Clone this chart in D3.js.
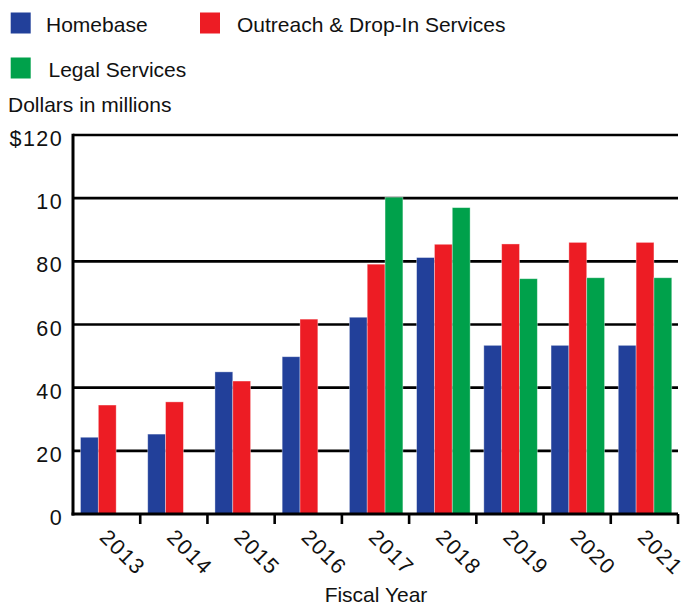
<!DOCTYPE html>
<html>
<head>
<meta charset="utf-8">
<script src="https://cdn.jsdelivr.net/npm/d3@7"></script>
<style>
  html, body { margin: 0; padding: 0; background: #fff; }
  svg { display: block; font-family: "Liberation Sans", Arial, sans-serif; }
</style>
</head>
<body>
<svg id="chart" width="681" height="605"></svg>
<script>
const years = ["2013","2014","2015","2016","2017","2018","2019","2020","2021"];
const seriesNames = ["Homebase", "Outreach & Drop-In Services", "Legal Services"];
const homebase = [24.3, 25.3, 45.0, 49.8, 62.3, 81.2, 53.4, 53.4, 53.4];
const outreach = [34.5, 35.5, 42.1, 61.7, 79.1, 85.4, 85.5, 86.0, 86.0];
const legal    = [null, null, null, null, 100.3, 97.0, 74.5, 74.8, 74.8];
const yTickValues = [0, 20, 40, 60, 80, 100, 120];
const yTickLabels = ["0", "20", "40", "60", "80", "10", "$120"];
const colors = ["#22409A", "#ED1C24", "#00A14B"];

const svg = d3.select("#chart");
const x0 = 73, x1 = 678, yBottom = 514, yTop = 135;

const x = d3.scaleBand().domain(years).range([x0, x1]).padding(0);
const xs = d3.scaleBand().domain(seriesNames).range([7.5, 61]).padding(0);
const y = d3.scaleLinear().domain([0, 120]).range([yBottom, yTop]);

const allSeries = [homebase, outreach, legal];

// gridlines
svg.append("g").selectAll("line")
  .data(yTickValues.filter(v => v > 0))
  .join("line")
  .attr("x1", x0).attr("x2", x1)
  .attr("y1", d => y(d)).attr("y2", d => y(d))
  .attr("stroke", "#000").attr("stroke-width", 2.6);

// bars
const barData = [];
allSeries.forEach((arr, si) => {
  arr.forEach((v, i) => {
    if (v != null) barData.push({ year: years[i], series: seriesNames[si], value: v, si });
  });
});
svg.append("g").selectAll("rect")
  .data(barData)
  .join("rect")
  .attr("x", d => x(d.year) + xs(d.series))
  .attr("width", xs.bandwidth())
  .attr("y", d => y(d.value))
  .attr("height", d => y(0) - y(d.value))
  .attr("fill", d => colors[d.si])
  .attr("stroke", "rgba(255,255,255,0.45)")
  .attr("stroke-width", 0.8);

// y axis line
svg.append("line")
  .attr("x1", x0).attr("x2", x0)
  .attr("y1", yTop - 1.3).attr("y2", yBottom + 1.5)
  .attr("stroke", "#000").attr("stroke-width", 3);

// x axis line
svg.append("line")
  .attr("x1", x0 - 1.5).attr("x2", x1)
  .attr("y1", yBottom).attr("y2", yBottom)
  .attr("stroke", "#000").attr("stroke-width", 3);

// x ticks at band boundaries
svg.append("g").selectAll("line")
  .data(years)
  .join("line")
  .attr("x1", d => x(d) + x.bandwidth()).attr("x2", d => x(d) + x.bandwidth())
  .attr("y1", yBottom).attr("y2", yBottom + 10)
  .attr("stroke", "#000").attr("stroke-width", 2.6);

// y tick labels
svg.append("g").selectAll("text")
  .data(yTickValues)
  .join("text")
  .attr("x", 63)
  .attr("y", d => y(d) + 11)
  .attr("text-anchor", "end")
  .attr("font-size", 21.5)
  .attr("letter-spacing", 1.4)
  .attr("fill", "#111")
  .text((d, i) => yTickLabels[i]);

// x tick labels rotated
svg.append("g").selectAll("text")
  .data(years)
  .join("text")
  .attr("transform", d => `translate(${x(d) + x.bandwidth() / 2 - 8},538.5) rotate(45)`)
  .attr("text-anchor", "start")
  .attr("font-size", 21.5)
  .attr("letter-spacing", 1.4)
  .attr("fill", "#111")
  .text(d => d);

// axis titles
svg.append("text")
  .attr("x", 376).attr("y", 602)
  .attr("text-anchor", "middle")
  .attr("font-size", 21)
  .attr("fill", "#111")
  .text("Fiscal Year");

svg.append("text")
  .attr("x", 8).attr("y", 112)
  .attr("font-size", 21)
  .attr("fill", "#111")
  .text("Dollars in millions");

// legend
const legendItems = [
  { name: seriesNames[0], color: colors[0], sx: 10.7, sy: 12.5, tx: 46, ty: 32.3 },
  { name: seriesNames[1], color: colors[1], sx: 200, sy: 12.5, tx: 237, ty: 32.3 },
  { name: seriesNames[2], color: colors[2], sx: 10.7, sy: 57.5, tx: 48.5, ty: 76.5 }
];
const lg = svg.append("g").selectAll("g").data(legendItems).join("g");
lg.append("rect")
  .attr("x", d => d.sx).attr("y", d => d.sy)
  .attr("width", 20).attr("height", 21)
  .attr("fill", d => d.color);
lg.append("text")
  .attr("x", d => d.tx).attr("y", d => d.ty)
  .attr("font-size", 21)
  .attr("fill", "#111")
  .text(d => d.name);
</script>
</body>
</html>
